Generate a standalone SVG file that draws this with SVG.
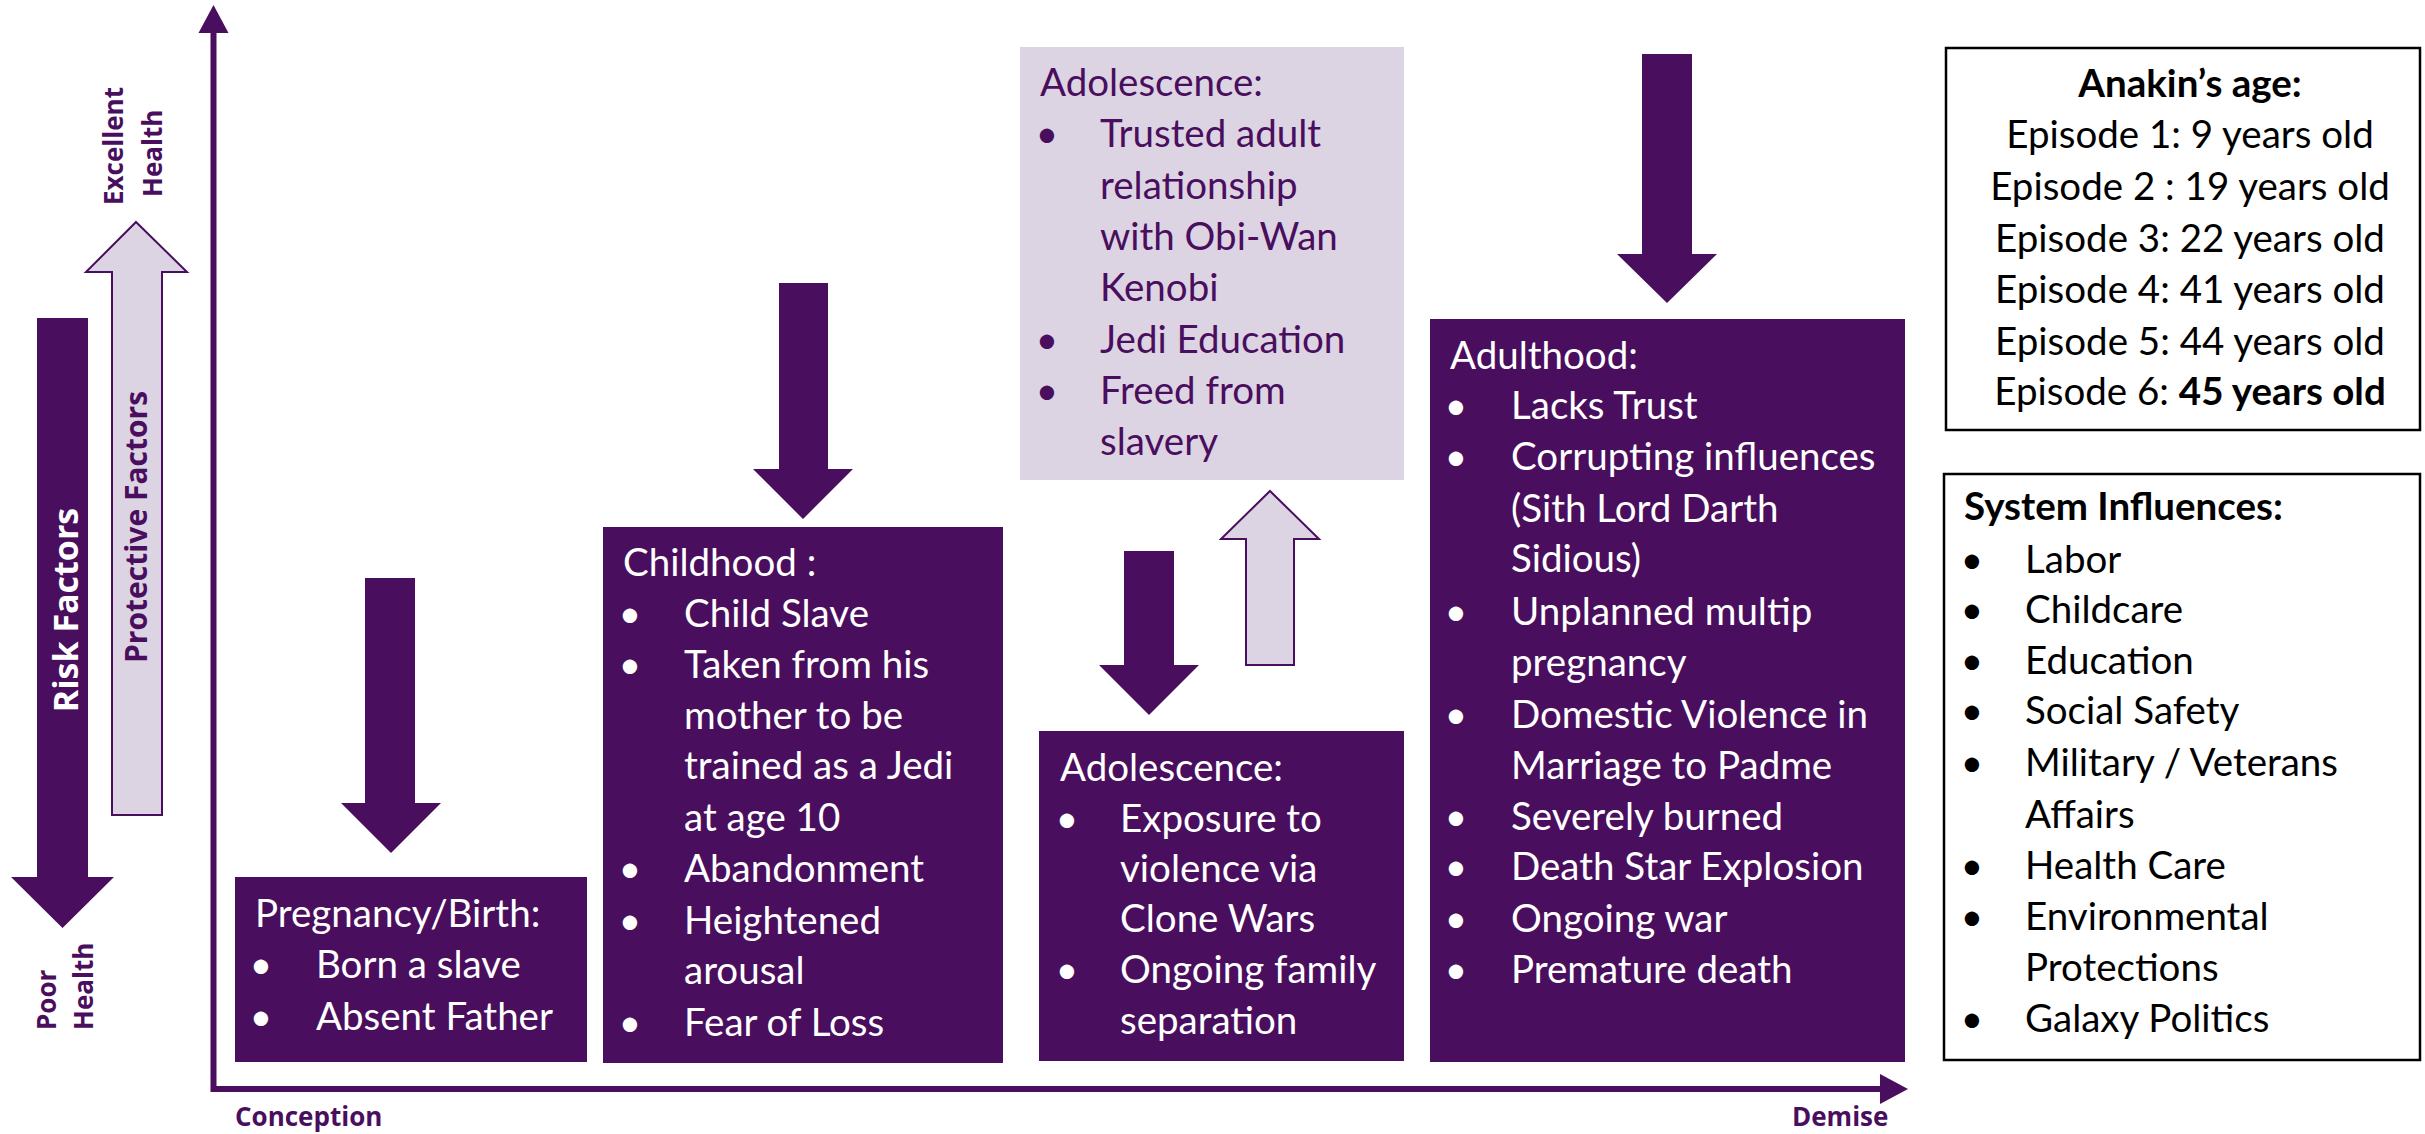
<svg xmlns="http://www.w3.org/2000/svg" width="2425" height="1134" viewBox="0 0 2425 1134">
<defs>
<style>
.dk{fill:#4A0E5E}
.lt{fill:#DDD4E3;stroke:#4A0E5E;stroke-width:2}
.ltbox{fill:#DDD4E3}
.bx{fill:#fff;stroke:#000;stroke-width:2.5}
.t{font-family:Lato,"Liberation Sans",sans-serif;font-size:38.5px}
.w{fill:#fff}
.p{fill:#4A0E5E}
.k{fill:#000}
.b{font-weight:bold}
.ax{font-family:"Open Sans","DejaVu Sans",sans-serif;font-weight:bold;font-size:26px;fill:#4A0E5E}
.bul{text-anchor:middle}
</style>
</defs>
<rect width="2425" height="1134" fill="#fff"/>

<g id="axes">
<path d="M213.5,30 V1089 H1882" fill="none" stroke="#4A0E5E" stroke-width="6"/>
<polygon class="dk" points="213.5,5 228.5,33 198.5,33"/>
<polygon class="dk" points="1908,1089 1880,1074 1880,1104"/>
<text class="ax" x="235" y="1126">Conception</text>
<text class="ax" x="1792" y="1126">Demise</text>
</g>

<g id="health-scale">
<g transform="translate(123,205) rotate(-90)"><text class="ax" x="0" y="0">Excellent</text></g>
<g transform="translate(162,197) rotate(-90)"><text class="ax" x="0" y="0">Health</text></g>
<g transform="translate(56,1030) rotate(-90)"><text class="ax" x="0" y="0">Poor</text></g>
<g transform="translate(93,1030) rotate(-90)"><text class="ax" x="0" y="0">Health</text></g>
</g>

<g id="risk-factors">
<polygon class="dk" points="37,318 88,318 88,877 114,877 62.5,928 11,877 37,877"/>
<g transform="translate(78,610) rotate(-90)"><text x="0" y="0" text-anchor="middle" style="font-family:'Open Sans','DejaVu Sans',sans-serif;font-weight:bold;font-size:34px" fill="#fff">Risk Factors</text></g>
</g>

<g id="protective-factors">
<polygon class="lt" points="136,222 187,272 162,272 162,815 112,815 112,272 86,272"/>
<g transform="translate(147,527) rotate(-90)"><text x="0" y="0" text-anchor="middle" style="font-family:'Open Sans','DejaVu Sans',sans-serif;font-weight:bold;font-size:30px" fill="#4A0E5E">Protective Factors</text></g>
</g>

<g id="connectors">
<polygon class="dk" points="365,578 415,578 415,803 441,803 391,853 341,803 365,803"/>
<polygon class="dk" points="779,283 828,283 828,469 853,469 803,519 753,469 779,469"/>
<polygon class="dk" points="1124,551 1174,551 1174,665 1199,665 1149,715 1099,665 1124,665"/>
<polygon class="lt" points="1270,491 1319,539 1294,539 1294,665 1246,665 1246,539 1221,539"/>
<polygon class="dk" points="1642,54 1692,54 1692,254 1717,254 1667,303 1617,254 1642,254"/>
</g>

<g id="pregnancy">
<rect class="dk" x="235" y="877" width="352" height="185"/>
<g class="t w">
<text x="255" y="927">Pregnancy/Birth:</text>
<text class="bul" x="261" y="978">•</text><text x="316" y="978">Born a slave</text>
<text class="bul" x="261" y="1030">•</text><text x="316" y="1030">Absent Father</text>
</g>
</g>

<g id="childhood">
<rect class="dk" x="603" y="527" width="400" height="536"/>
<g class="t w">
<text x="623" y="576">Childhood :</text>
<text class="bul" x="630" y="627">•</text><text x="684" y="627">Child Slave</text>
<text class="bul" x="630" y="678">•</text><text x="684" y="678">Taken from his</text>
<text x="684" y="729">mother to be</text>
<text x="684" y="779">trained as a Jedi</text>
<text x="684" y="831">at age 10</text>
<text class="bul" x="630" y="882">•</text><text x="684" y="882">Abandonment</text>
<text class="bul" x="630" y="934">•</text><text x="684" y="934">Heightened</text>
<text x="684" y="984">arousal</text>
<text class="bul" x="630" y="1036">•</text><text x="684" y="1036">Fear of Loss</text>
</g>
</g>

<g id="adolescence-protective">
<rect class="ltbox" x="1020" y="47" width="384" height="433"/>
<g class="t p">
<text x="1040" y="96">Adolescence:</text>
<text class="bul" x="1047" y="147">•</text><text x="1100" y="147">Trusted adult</text>
<text x="1100" y="199">relationship</text>
<text x="1100" y="250">with Obi-Wan</text>
<text x="1100" y="301">Kenobi</text>
<text class="bul" x="1047" y="353">•</text><text x="1100" y="353">Jedi Education</text>
<text class="bul" x="1047" y="404">•</text><text x="1100" y="404">Freed from</text>
<text x="1100" y="455">slavery</text>
</g>
</g>

<g id="adolescence-risk">
<rect class="dk" x="1039" y="731" width="365" height="330"/>
<g class="t w">
<text x="1060" y="781">Adolescence:</text>
<text class="bul" x="1067" y="832">•</text><text x="1120" y="832">Exposure to</text>
<text x="1120" y="882">violence via</text>
<text x="1120" y="932">Clone Wars</text>
<text class="bul" x="1067" y="983">•</text><text x="1120" y="983">Ongoing family</text>
<text x="1120" y="1034">separation</text>
</g>
</g>

<g id="adulthood">
<rect class="dk" x="1430" y="319" width="475" height="743"/>
<g class="t w">
<text x="1450" y="369">Adulthood:</text>
<text class="bul" x="1456" y="419">•</text><text x="1511" y="419">Lacks Trust</text>
<text class="bul" x="1456" y="470">•</text><text x="1511" y="470">Corrupting influences</text>
<text x="1511" y="522">(Sith Lord Darth</text>
<text x="1511" y="572">Sidious)</text>
<text class="bul" x="1456" y="625">•</text><text x="1511" y="625">Unplanned multip</text>
<text x="1511" y="676">pregnancy</text>
<text class="bul" x="1456" y="728">•</text><text x="1511" y="728">Domestic Violence in</text>
<text x="1511" y="779">Marriage to Padme</text>
<text class="bul" x="1456" y="830">•</text><text x="1511" y="830">Severely burned</text>
<text class="bul" x="1456" y="880">•</text><text x="1511" y="880">Death Star Explosion</text>
<text class="bul" x="1456" y="932">•</text><text x="1511" y="932">Ongoing war</text>
<text class="bul" x="1456" y="983">•</text><text x="1511" y="983">Premature death</text>
</g>
</g>

<g id="anakin-age">
<rect class="bx" x="1946" y="48" width="474" height="382"/>
<g class="t k" text-anchor="middle">
<text class="b" x="2190" y="97">Anakin’s age:</text>
<text x="2190" y="148">Episode 1: 9 years old</text>
<text x="2190" y="200">Episode 2 : 19 years old</text>
<text x="2190" y="252">Episode 3: 22 years old</text>
<text x="2190" y="303">Episode 4: 41 years old</text>
<text x="2190" y="355">Episode 5: 44 years old</text>
<text x="2190" y="405">Episode 6: <tspan font-weight="bold">45 years old</tspan></text>
</g>
</g>

<g id="system-influences">
<rect class="bx" x="1944" y="474" width="476" height="586"/>
<g class="t k">
<text class="b" x="1964" y="520">System Influences:</text>
<text class="bul" x="1972" y="573">•</text><text x="2025" y="573">Labor</text>
<text class="bul" x="1972" y="623">•</text><text x="2025" y="623">Childcare</text>
<text class="bul" x="1972" y="674">•</text><text x="2025" y="674">Education</text>
<text class="bul" x="1972" y="724">•</text><text x="2025" y="724">Social Safety</text>
<text class="bul" x="1972" y="776">•</text><text x="2025" y="776">Military / Veterans</text>
<text x="2025" y="828">Affairs</text>
<text class="bul" x="1972" y="879">•</text><text x="2025" y="879">Health Care</text>
<text class="bul" x="1972" y="930">•</text><text x="2025" y="930">Environmental</text>
<text x="2025" y="981">Protections</text>
<text class="bul" x="1972" y="1032">•</text><text x="2025" y="1032">Galaxy Politics</text>
</g>
</g>
</svg>
